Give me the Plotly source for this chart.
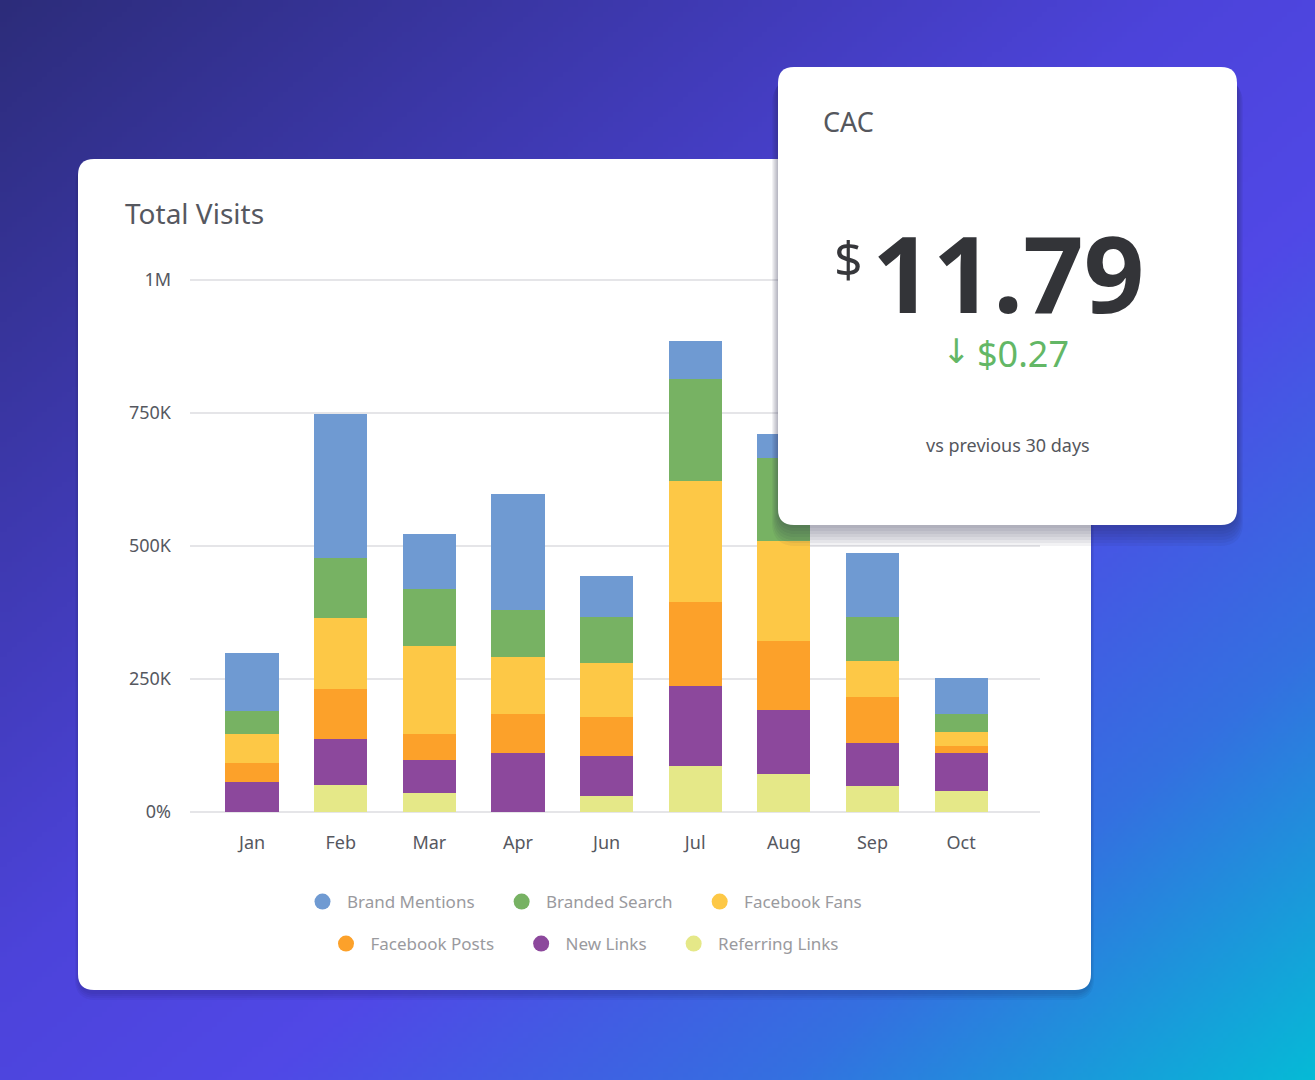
import base64
import struct
import zlib
import plotly.graph_objects as go

W, H = 1315, 1080

months = ['Jan', 'Feb', 'Mar', 'Apr', 'Jun', 'Jul', 'Aug', 'Sep', 'Oct']

# values in visits (bottom of the stack first)
referring_links = [0, 51000, 36000, 0, 31000, 87000, 71000, 48000, 40000]
new_links = [56000, 87000, 62000, 110000, 75000, 149000, 121000, 82000, 71000]
facebook_posts = [37000, 93000, 48000, 75000, 72000, 159000, 130000, 87000, 13000]
facebook_fans = [53000, 134000, 166000, 106000, 102000, 227000, 187000, 66000, 26000]
branded_search = [44000, 112000, 107000, 89000, 86000, 191000, 156000, 83000, 34000]
brand_mentions = [108000, 271000, 104000, 217000, 78000, 73000, 46000, 121000, 68000]

series = [
    ('Referring Links', referring_links, '#e5e888'),
    ('New Links', new_links, '#8c489c'),
    ('Facebook Posts', facebook_posts, '#fca12a'),
    ('Facebook Fans', facebook_fans, '#fdc846'),
    ('Branded Search', branded_search, '#77b263'),
    ('Brand Mentions', brand_mentions, '#6f9ad2'),
]
legend_rows = [
    ['Brand Mentions', 'Branded Search', 'Facebook Fans'],
    ['Facebook Posts', 'New Links', 'Referring Links'],
]

y_ticks = [0, 250000, 500000, 750000, 1000000]
y_labels = ['0%', '250K', '500K', '750K', '1M']

kpi_title = 'CAC'
kpi_value = '11.79'
kpi_change = '$0.27'
kpi_note = 'vs previous 30 days'

FONT = 'Noto Sans'
NB = '\u00a0'


def px(x):
    return x / W


def py(y):
    return 1 - y / H


def round_rect(x0, y0, x1, y1, r):
    # path in paper units, corners given in pixels (top-left origin)
    rx, ry = r / W, r / H
    a, b, c, d = px(x0), py(y0), px(x1), py(y1)
    return (f'M{a+rx},{b} L{c-rx},{b} Q{c},{b} {c},{b-ry} '
            f'L{c},{d+ry} Q{c},{d} {c-rx},{d} L{a+rx},{d} '
            f'Q{a},{d} {a},{d+ry} L{a},{b-ry} Q{a},{b} {a+rx},{b} Z')


def lerp_stops(t, stops):
    for (t0, c0), (t1, c1) in zip(stops, stops[1:]):
        if t <= t1:
            f = (t - t0) / (t1 - t0)
            return [int(round(c0[k] + (c1[k] - c0[k]) * f)) for k in range(3)]
    return list(stops[-1][1])


def gradient_png(w, h):
    stops = [(0.0, (44, 44, 122)), (0.45, (76, 67, 218)), (0.6, (80, 72, 230)),
             (0.8, (52, 112, 224)), (1.0, (6, 186, 214))]
    raw = bytearray()
    for j in range(h):
        raw.append(0)
        for i in range(w):
            t = (i / (w - 1) + j / (h - 1)) / 2
            raw.extend(lerp_stops(t, stops))

    def chunk(tag, data):
        return (struct.pack('>I', len(data)) + tag + data
                + struct.pack('>I', zlib.crc32(tag + data) & 0xffffffff))
    png = (b'\x89PNG\r\n\x1a\n'
           + chunk(b'IHDR', struct.pack('>IIBBBBB', w, h, 8, 2, 0, 0, 0))
           + chunk(b'IDAT', zlib.compress(bytes(raw), 9))
           + chunk(b'IEND', b''))
    return 'data:image/png;base64,' + base64.b64encode(png).decode()


fig = go.Figure()

for name, vals, color in series:
    fig.add_trace(go.Bar(x=months, y=vals, name=name, marker=dict(color=color, line=dict(width=0)),
                         showlegend=False, hoverinfo='name+y'))

# legend entries with round markers, split over two rows
colors = {name: color for name, _, color in series}
for i, row in enumerate(legend_rows):
    for j, name in enumerate(row):
        label = NB + name + (NB * 5 if j < len(row) - 1 else '')
        fig.add_trace(go.Scatter(x=[None], y=[None], mode='markers', name=label,
                                 marker=dict(color=colors[name], size=16),
                                 legend='legend' if i == 0 else 'legend2'))

shapes = []
# main card with a soft shadow
for k in range(4):
    shapes.append(dict(type='path', xref='paper', yref='paper', layer='below',
                       path=round_rect(78 - k, 161 + k, 1091 + k, 994 + 2 * k, 18 + k),
                       fillcolor='rgba(20,20,60,0.05)', line=dict(width=0)))
shapes.append(dict(type='path', xref='paper', yref='paper', layer='below',
                   path=round_rect(78, 159, 1091, 990, 16), fillcolor='white', line=dict(width=0)))
# KPI card shadow + card, above the bars
for k in range(7):
    shapes.append(dict(type='path', xref='paper', yref='paper', layer='above',
                       path=round_rect(778 - k, 74 + k, 1237 + k, 528 + 3 * k, 18 + k),
                       fillcolor='rgba(30,30,70,0.06)', line=dict(width=0)))
shapes.append(dict(type='path', xref='paper', yref='paper', layer='above',
                   path=round_rect(778, 67, 1237, 525, 16), fillcolor='white', line=dict(width=0)))

annotations = [
    dict(text='Total Visits', x=px(123), y=py(213), xanchor='left', yanchor='middle',
         font=dict(family=FONT, size=28, color='#56585f')),
    dict(text=kpi_title, x=px(821), y=py(121), xanchor='left', yanchor='middle',
         font=dict(family=FONT, size=27, color='#55575d')),
    dict(text='$', x=px(848), y=py(258), xanchor='center', yanchor='middle',
         font=dict(family=FONT, size=50, color='#36373b')),
    dict(text='<b>' + kpi_value + '</b>', x=px(870), y=py(272), xanchor='left', yanchor='middle',
         font=dict(family=FONT, size=106, color='#333438')),
    dict(text='↓', x=px(956), y=py(351), xanchor='center', yanchor='middle',
         font=dict(family='DejaVu Sans', size=34, color='#63b766')),
    dict(text=kpi_change, x=px(975), y=py(354), xanchor='left', yanchor='middle',
         font=dict(family=FONT, size=36, color='#63b766')),
    dict(text=kpi_note, x=px(1008), y=py(445), xanchor='center', yanchor='middle',
         font=dict(family=FONT, size=18, color='#55575d')),
]
for a in annotations:
    a.update(xref='paper', yref='paper', showarrow=False)

fig.update_layout(
    width=W, height=H,
    autosize=False,
    margin=dict(l=0, r=0, t=0, b=0, pad=0, autoexpand=False),
    paper_bgcolor='#3d3aa8',
    plot_bgcolor='rgba(0,0,0,0)',
    barmode='stack',
    bargap=0.4,
    font=dict(family=FONT),
    shapes=shapes,
    annotations=annotations,
    images=[dict(source=gradient_png(263, 216), xref='paper', yref='paper', x=0, y=1,
                 sizex=1, sizey=1, xanchor='left', yanchor='top', sizing='stretch', layer='below')],
    xaxis=dict(domain=[px(190), px(1040)], range=[-0.7, 8.89], showgrid=False, zeroline=False,
               showline=False, ticks='', tickfont=dict(size=18, color='#56585f'), ticklabelstandoff=15,
               fixedrange=True, automargin=False),
    yaxis=dict(domain=[py(814.66), py(253.4)], range=[-5000, 1050000], tickvals=y_ticks, ticktext=y_labels,
               showgrid=True, gridcolor='#e5e5e8', gridwidth=2, zeroline=False, showline=False, ticks='',
               tickfont=dict(size=18, color='#56585f'), ticklabelstandoff=18, fixedrange=True,
               automargin=False),
    legend=dict(orientation='h', x=px(585), y=py(902),
                xanchor='center', yanchor='middle', bgcolor='rgba(0,0,0,0)',
                font=dict(size=17, color='#9a9a9e'), traceorder='normal'),
    legend2=dict(orientation='h', x=px(585), y=py(944),
                 xanchor='center', yanchor='middle', bgcolor='rgba(0,0,0,0)',
                 font=dict(size=17, color='#9a9a9e'), traceorder='normal'),
)

fig.write_html('out.html', config={'displayModeBar': False},
               post_script="document.body.style.margin='0';document.body.style.overflow='hidden';")
